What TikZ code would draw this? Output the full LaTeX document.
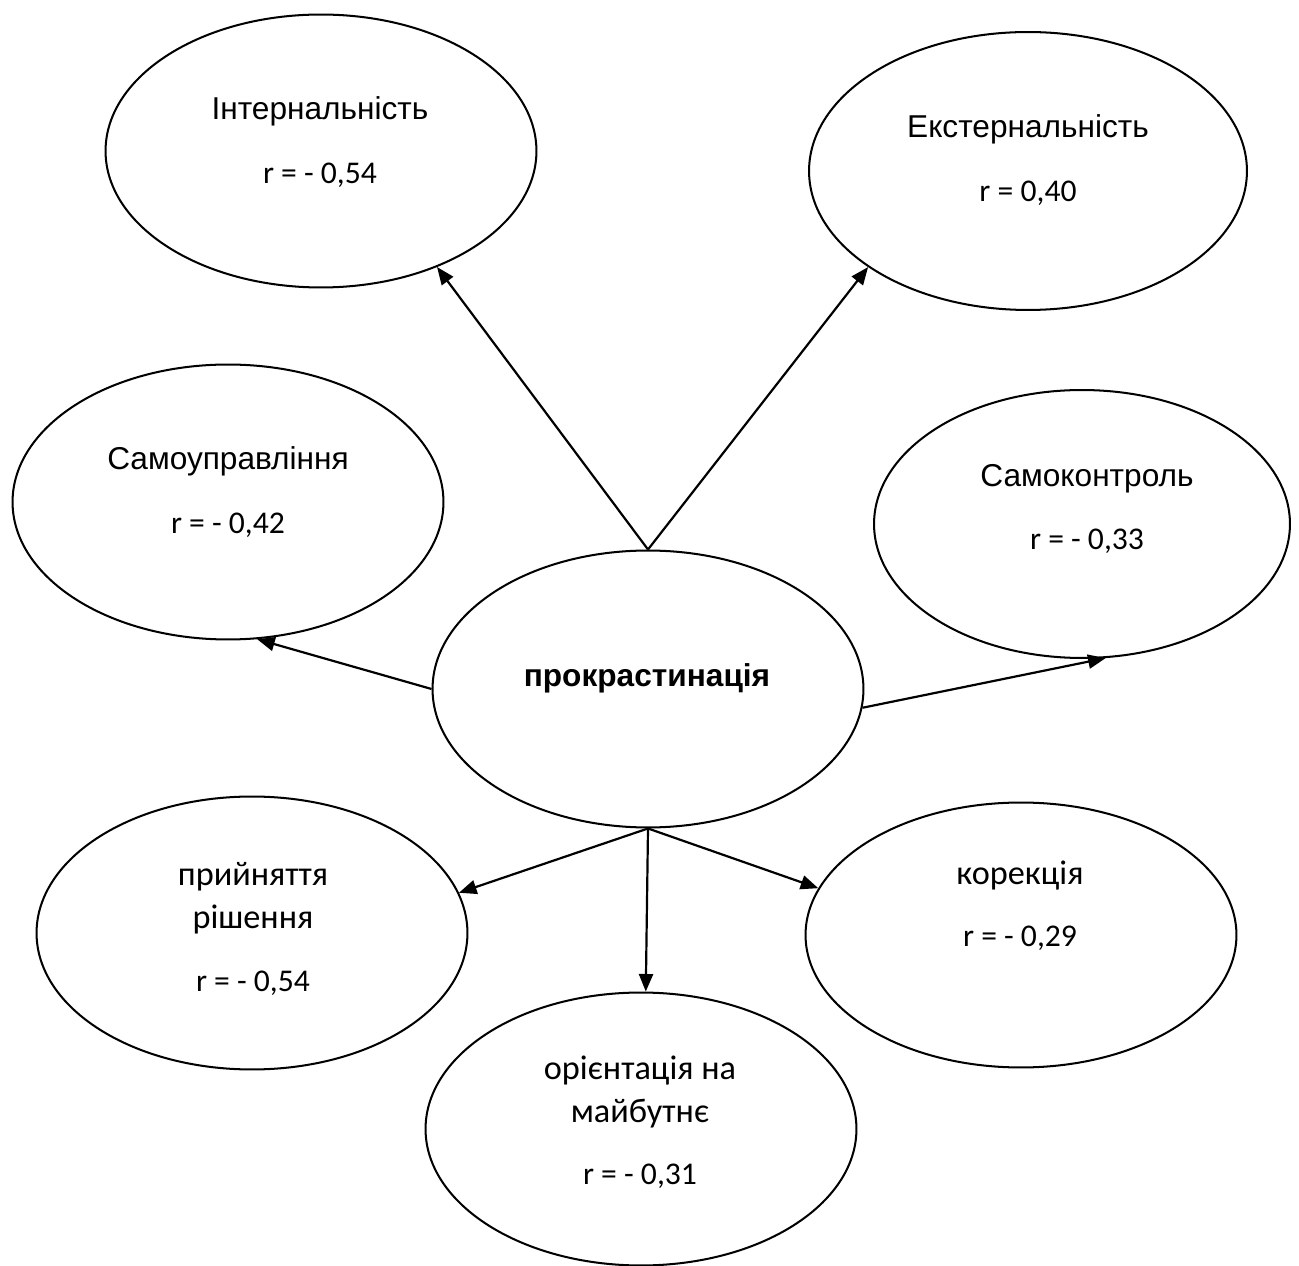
\documentclass[tikz,border=0pt]{standalone}
\usepackage{fontspec}
\setmainfont{Liberation Sans}
\newfontfamily\calib{Carlito}
\usetikzlibrary{arrows.meta,positioning,shapes.geometric}

\begin{document}
\begin{tikzpicture}[
  x=0.02cm, y=-0.02cm,
  oval/.style={draw,ellipse,line width=1.15pt,minimum width=8.62cm,minimum height=5.46cm,inner sep=0pt},
  lbl/.style={align=center,font=\fontsize{18}{24.5}\selectfont},
  lblc/.style={align=center,font=\calib\fontsize{19.5}{24.5}\selectfont},
  arrow/.style={-{Triangle[length=10pt,width=8pt]},line width=1.25pt}
]
  \useasboundingbox (0,0) rectangle (1299,1266);

  % Ovals
  \node[oval] (int) at (321,151) {};
  \node[oval,minimum width=8.76cm,minimum height=5.56cm] (ext) at (1028,171) {};
  \node[oval,minimum height=5.5cm] (sam) at (228,502) {};
  \node[oval,minimum width=8.32cm,minimum height=5.36cm] (samk) at (1082,524) {};
  \node[oval,minimum height=5.54cm] (proc) at (648,689) {};
  \node[oval] (prij) at (252,933) {};
  \node[oval,minimum height=5.3cm] (kor) at (1021,935) {};
  \node[oval] (orient) at (641,1129) {};

  % Texts
  \node[lbl] (int-t) at (320,142) {Інтернальність\\[11.5pt]{\calib r = - 0,54}};
  \node[lbl] (ext-t) at (1028,160) {Екстернальність\\[11.5pt]{\calib r = 0,40}};
  \node[lbl] (sam-t) at (228,492) {Самоуправління\\[11.5pt]{\calib r = - 0,42}};
  \node[lbl] (samk-t) at (1087,509) {Самоконтроль\\[11.5pt]{\calib r = - 0,33}};
  \node[lbl,font=\bfseries\fontsize{18}{24.5}\selectfont] (proc-t) at (647,678) {прокрастинація};
  \node[lblc] (prij-t) at (253,929) {прийняття\\рішення\\[11pt]{\fontsize{18}{24.5}\selectfont r = - 0,54}};
  \node[lblc] (kor-t) at (1020,906) {корекція\\[11pt]{\fontsize{18}{24.5}\selectfont r = - 0,29}};
  \node[lblc] (orient-t) at (640,1122) {орієнтація на\\майбутнє\\[11pt]{\fontsize{18}{24.5}\selectfont r = - 0,31}};

  % Links
  \draw[arrow] (proc.north) -- (int.-45);
  \draw[arrow] (proc.north) -- (ext.-149);
  \draw[arrow] (proc.west) -- (sam.-78);
  \draw[arrow] (proc.-5) -- (samk.-80);
  \draw[arrow] (proc.south) -- (prij.11);
  \draw[arrow] (proc.south) -- (orient.88);
  \draw[arrow] (proc.south) -- (kor.167);
\end{tikzpicture}
\end{document}
